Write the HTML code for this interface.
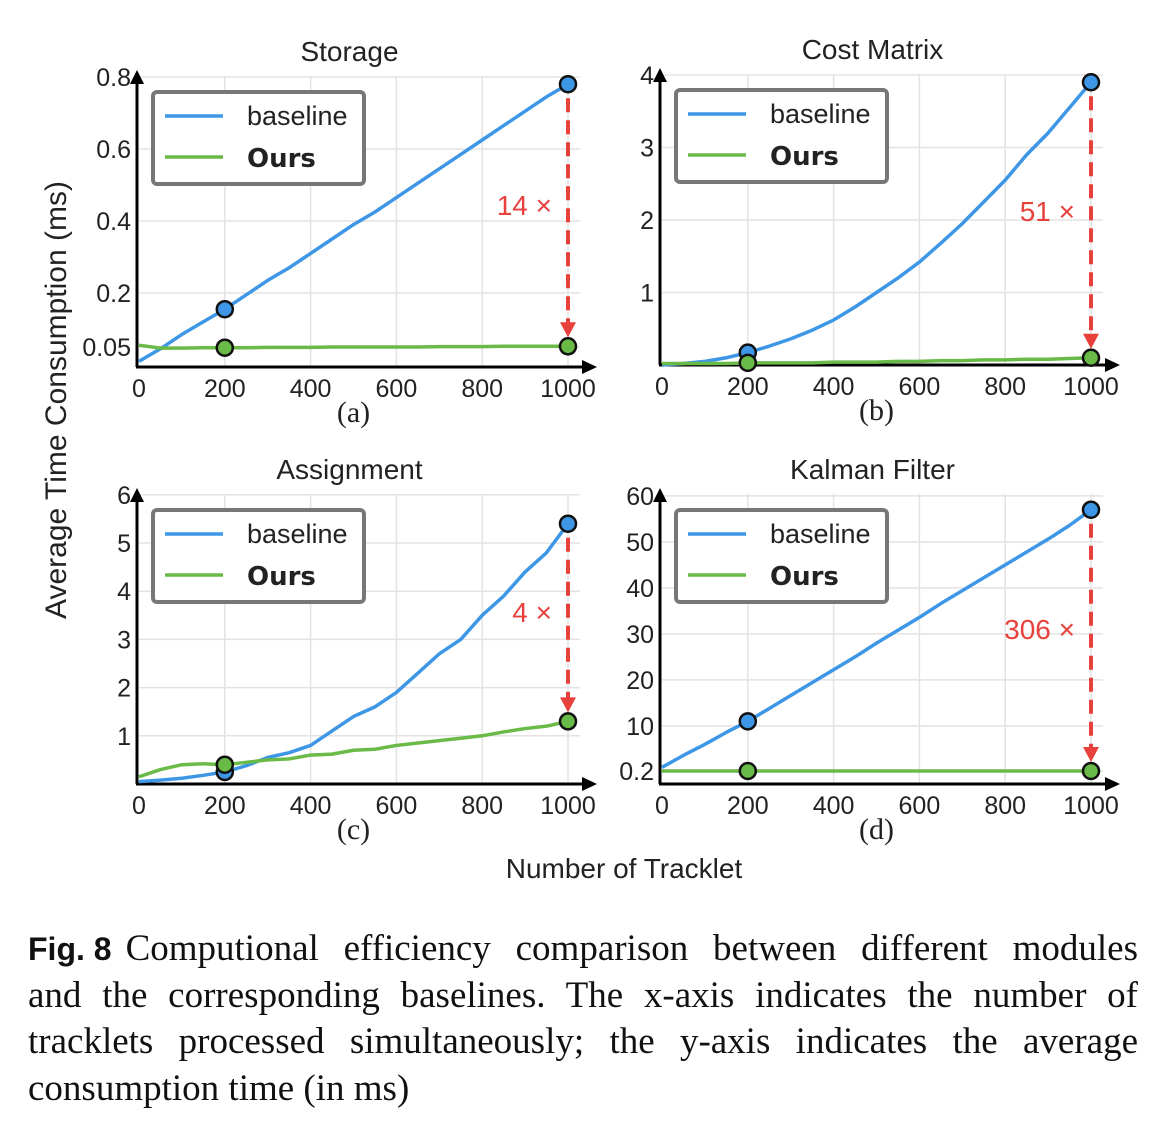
<!DOCTYPE html>
<html><head><meta charset="utf-8"><style>
body{margin:0;background:#fff;width:1173px;height:1137px;overflow:hidden;position:relative}
svg{position:absolute;left:0;top:0}
.cap{position:absolute;left:28px;top:926px;width:1110px;font-family:"Liberation Serif",serif;font-size:37px;line-height:46.5px;color:#111}
.cap div{text-align:justify;text-align-last:justify;white-space:nowrap}
.cap div.last{text-align-last:left}
.cap b{display:inline-block;font-family:"Liberation Sans",sans-serif;font-weight:bold;font-size:32px;margin-right:14px;white-space:pre}
</style></head><body>
<svg id="fig" width="1173" height="900" xmlns="http://www.w3.org/2000/svg"></svg>
<div class="cap"><div><b>Fig. 8</b>Computional efficiency comparison between different modules</div><div>and the corresponding baselines. The x-axis indicates the number of</div><div>tracklets processed simultaneously; the y-axis indicates the average</div><div class="last">consumption time (in ms)</div></div>
<script>
const xs = [0,50,100,150,200,250,300,350,400,450,500,550,600,650,700,750,800,850,900,950,1000];
const xTicks = [0,200,400,600,800,1000];
const storageBase = [0.01,0.045,0.085,0.12,0.155,0.195,0.235,0.27,0.31,0.35,0.39,0.425,0.465,0.505,0.545,0.585,0.625,0.665,0.705,0.745,0.78];
const storageOurs = [0.055,0.047,0.047,0.048,0.048,0.048,0.049,0.049,0.049,0.05,0.05,0.05,0.05,0.05,0.051,0.051,0.051,0.052,0.052,0.052,0.052];
const costBase = [0.0,0.02,0.05,0.1,0.17,0.26,0.36,0.48,0.62,0.8,1.0,1.2,1.42,1.68,1.95,2.25,2.55,2.9,3.2,3.55,3.9];
const costOurs = [0.02,0.02,0.02,0.02,0.03,0.03,0.03,0.03,0.04,0.04,0.04,0.05,0.05,0.06,0.06,0.07,0.07,0.08,0.08,0.09,0.1];
const assignBase = [0.05,0.08,0.12,0.18,0.25,0.38,0.55,0.65,0.8,1.1,1.4,1.6,1.9,2.3,2.7,3.0,3.5,3.9,4.4,4.8,5.4];
const assignOurs = [0.15,0.3,0.4,0.42,0.4,0.45,0.5,0.52,0.6,0.62,0.7,0.72,0.8,0.85,0.9,0.95,1.0,1.08,1.15,1.2,1.3];
const kalmanBase = [1.0,3.6,6.0,8.6,11.0,13.8,16.6,19.4,22.2,25.0,28.0,30.8,33.6,36.6,39.4,42.2,45.0,47.8,50.6,53.6,57.0];
const kalmanOurs = [0.2,0.2,0.2,0.2,0.2,0.2,0.2,0.2,0.2,0.2,0.2,0.2,0.2,0.2,0.2,0.2,0.2,0.2,0.2,0.2,0.2];
const yTicksA = [0.05,0.2,0.4,0.6,0.8];
const yTicksB = [1,2,3,4];
const yTicksC = [1,2,3,4,5,6];
const yTicksD = [0.2,10,20,30,40,50,60];
const titles = ["Storage","Cost Matrix","Assignment","Kalman Filter"];
const ratios = ["14 ×","51 ×","4 ×","306 ×"];

const NS="http://www.w3.org/2000/svg";
const svg=document.getElementById('fig');
function mk(tag,attrs,parent){const e=document.createElementNS(NS,tag);for(const k in attrs)e.setAttribute(k,attrs[k]);(parent||svg).appendChild(e);return e;}
function txt(s,attrs,parent){const e=mk('text',attrs,parent);e.textContent=s;return e;}
const SANS='"Liberation Sans",sans-serif', SERIF='"Liberation Serif",serif';

const panels=[
 {id:'a',x0:139,x1:568,yAxis:367,ref:0,refY:365,ppu:360,ticks:yTicksA,base:storageBase,ours:storageOurs,title:titles[0],ratio:ratios[0],top:70,ry:205,lbl:'(a)'},
 {id:'b',x0:662,x1:1091,yAxis:365,ref:0,refY:365,ppu:72.5,ticks:yTicksB,base:costBase,ours:costOurs,title:titles[1],ratio:ratios[1],top:68,ry:211,lbl:'(b)'},
 {id:'c',x0:139,x1:568,yAxis:784,ref:0,refY:784,ppu:48.2,ticks:yTicksC,base:assignBase,ours:assignOurs,title:titles[2],ratio:ratios[2],top:488,ry:612,lbl:'(c)'},
 {id:'d',x0:662,x1:1091,yAxis:784,ref:0.2,refY:771,ppu:4.6,ticks:yTicksD,base:kalmanBase,ours:kalmanOurs,title:titles[3],ratio:ratios[3],top:488,ry:629,lbl:'(d)'}
];
const BLUE='#3d97e6',GREEN='#6aba48',RED='#e8413c';
panels.forEach(p=>{
 const g=mk('g',{});
 
 
 const X=v=>p.x0+(p.x1-p.x0)*v/1000;
 const Y=v=>p.refY-(v-p.ref)*p.ppu;
 const right=p.x1+12;
 xTicks.forEach(t=>{ if(t>0){const l=mk('line',{x1:X(t),x2:X(t),y1:p.top+6,y2:p.yAxis,stroke:'#e3e3e3','stroke-width':1.5},g);}});
 p.ticks.forEach(t=>{const l=mk('line',{x1:p.x0,x2:right,y1:Y(t),y2:Y(t),stroke:'#e3e3e3','stroke-width':1.5},g);});
 mk('line',{x1:p.x0-2,x2:p.x0-2,y1:p.yAxis,y2:p.top+10,stroke:'#000','stroke-width':3},g);
 mk('polygon',{points:`${p.x0-9},${p.top+14} ${p.x0+5},${p.top+14} ${p.x0-2},${p.top}`,fill:'#000'},g);
 mk('line',{x1:p.x0-3,x2:right+4,y1:p.yAxis,y2:p.yAxis,stroke:'#000','stroke-width':3},g);
 mk('polygon',{points:`${right+2},${p.yAxis-7} ${right+2},${p.yAxis+7} ${right+17},${p.yAxis}`,fill:'#000'},g);
 xTicks.forEach(t=>{const e=txt(String(t),{x:X(t),y:p.yAxis+30,'font-family':SANS,'font-size':25,'text-anchor':'middle',fill:'#222'},g);});
 p.ticks.forEach(t=>{const e=txt(String(t),{x:p.x0-8,y:Y(t)+9,'font-family':SANS,'font-size':25,'text-anchor':'end',fill:'#222'},g);});
 const ti=txt(p.title,{x:(p.x0+p.x1)/2-4,y:p.top-9,'font-family':SANS,'font-size':28,'text-anchor':'middle',fill:'#222'},g);
 
 const sl=txt(p.lbl,{x:(p.x0+p.x1)/2,y:p.yAxis+55,'font-family':SERIF,'font-size':30,'text-anchor':'middle',fill:'#222'},g);
 
 const pb=mk('polyline',{points:xs.map((x,i)=>X(x)+','+Y(p.base[i])).join(' '),fill:'none',stroke:BLUE,'stroke-width':3.5,'stroke-linejoin':'round'},g);
 
 const po=mk('polyline',{points:xs.map((x,i)=>X(x)+','+Y(p.ours[i])).join(' '),fill:'none',stroke:GREEN,'stroke-width':3.5,'stroke-linejoin':'round'},g);
 
 const bEnd=p.base[p.base.length-1], oEnd=p.ours[p.ours.length-1];
 const dl=mk('line',{x1:X(1000),x2:X(1000),y1:Y(bEnd)+14,y2:Y(oEnd)-22,stroke:RED,'stroke-width':4,'stroke-dasharray':'14,8'},g);
 
 mk('polygon',{points:`${X(1000)-8},${Y(oEnd)-24} ${X(1000)+8},${Y(oEnd)-24} ${X(1000)},${Y(oEnd)-9}`,fill:RED},g);
 const rt=txt(p.ratio,{x:X(1000)-16,y:p.ry+10,'font-family':SANS,'font-size':28,'text-anchor':'end',fill:RED},g);
 
 [[200,p.base[4],BLUE],[1000,bEnd,BLUE],[200,p.ours[4],GREEN],[1000,oEnd,GREEN]].forEach(m=>{
  const c=mk('circle',{cx:X(m[0]),cy:Y(m[1]),r:8,fill:m[2],stroke:'#111','stroke-width':2.5},g);
  
 });
 const lx=p.x0+14, ly=p.top+22;
 const lg=mk('g',{},g);
 mk('rect',{x:lx,y:ly,width:211,height:92,rx:4,fill:'#fff',stroke:'#777','stroke-width':4},lg);
 mk('line',{x1:lx+12,x2:lx+70,y1:ly+24,y2:ly+24,stroke:BLUE,'stroke-width':3.5},lg);
 mk('line',{x1:lx+12,x2:lx+70,y1:ly+65,y2:ly+65,stroke:GREEN,'stroke-width':3.5},lg);
 txt('baseline',{x:lx+94,y:ly+33,'font-family':SANS,'font-size':27,fill:'#222'},lg);
 txt('Ours',{x:lx+94,y:ly+75,'font-family':'"DejaVu Sans",sans-serif','font-size':26,'font-weight':'bold',fill:'#222'},lg);
});
const yt=txt('Average Time Consumption (ms)',{x:0,y:0,'font-family':SANS,'font-size':30,'text-anchor':'middle',fill:'#222',transform:'translate(66,400) rotate(-90)'});

const xt=txt('Number of Tracklet',{x:624,y:878,'font-family':SANS,'font-size':28,'text-anchor':'middle',fill:'#222'});

</script>
</body></html>
